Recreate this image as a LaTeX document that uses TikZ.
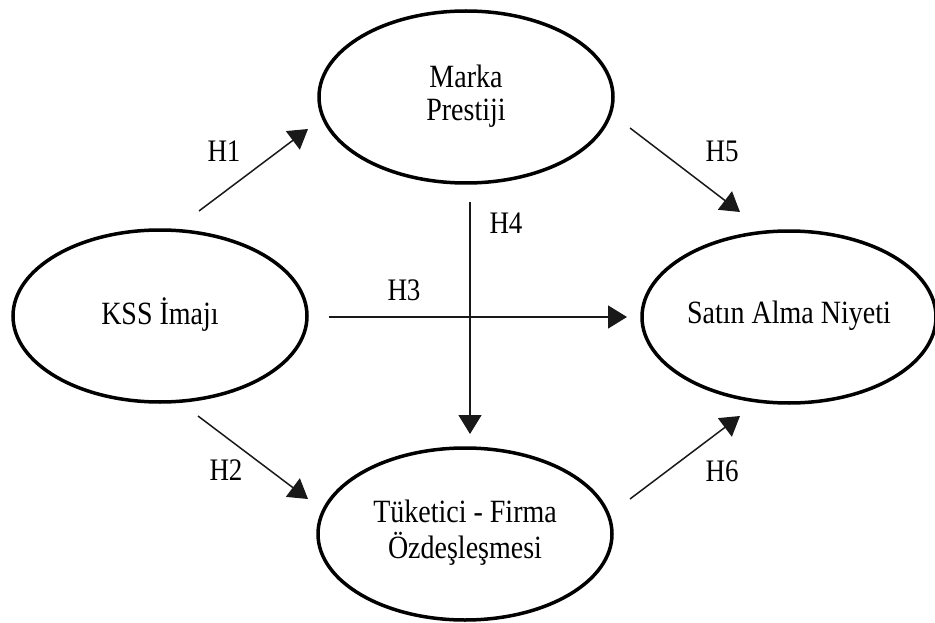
\documentclass[tikz,border=0pt]{standalone}
\usepackage{fontspec}
\setmainfont{Liberation Serif}
\usetikzlibrary{shapes.geometric,arrows.meta}
\newcommand{\ytxt}[1]{\scalebox{1}[1.16]{\begin{tabular}{@{}c@{}}#1\end{tabular}}}
\tikzset{
  construct/.style={draw=black, line width=3.5pt, ellipse, inner sep=0pt,
    minimum width=294pt, minimum height=172pt,
    font=\fontsize{28}{28.5}\selectfont},
  hyparrow/.style={draw=black!90, line width=1.5pt, -{Triangle[length=19pt,width=23pt]}},
  hyplabel/.style={inner sep=0pt, font=\fontsize{27}{28}\selectfont}
}
\begin{document}
\begin{tikzpicture}[x=1pt,y=-1pt]
\useasboundingbox (0,0) rectangle (935,623);
\node[construct] (mp) at (466,97) {\ytxt{Marka\\Prestiji}};
\node[construct] (kss) at (160,316) {\ytxt{KSS İmajı}};
\node[construct] (san) at (789,317) {\ytxt{Satın Alma Niyeti}};
\node[construct] (tf) at (465,534) {\ytxt{Tüketici - Firma\\Özdeşleşmesi}};
% arrow end points
\coordinate (h1s) at (199,211); \coordinate (h1e) at (308,129);
\coordinate (h2s) at (198,416); \coordinate (h2e) at (308,499);
\coordinate (h3s) at (329,317); \coordinate (h3e) at (627,317);
\coordinate (h4s) at (470,202); \coordinate (h4e) at (470,434);
\coordinate (h5s) at (630,128); \coordinate (h5e) at (740,212);
\coordinate (h6s) at (630,499); \coordinate (h6e) at (740,416);
\draw[hyparrow] (h1s) -- (h1e);
\draw[hyparrow] (h2s) -- (h2e);
\draw[hyparrow] (h3s) -- (h3e);
\draw[hyparrow] (h4s) -- (h4e);
\draw[hyparrow] (h5s) -- (h5e);
\draw[hyparrow] (h6s) -- (h6e);
\node[hyplabel] (l1) at (224,155) {\ytxt{H1}};
\node[hyplabel] (l2) at (226,474) {\ytxt{H2}};
\node[hyplabel] (l3) at (404,294) {\ytxt{H3}};
\node[hyplabel] (l4) at (506,227) {\ytxt{H4}};
\node[hyplabel] (l5) at (722,155) {\ytxt{H5}};
\node[hyplabel] (l6) at (722,475) {\ytxt{H6}};
\end{tikzpicture}
\end{document}
